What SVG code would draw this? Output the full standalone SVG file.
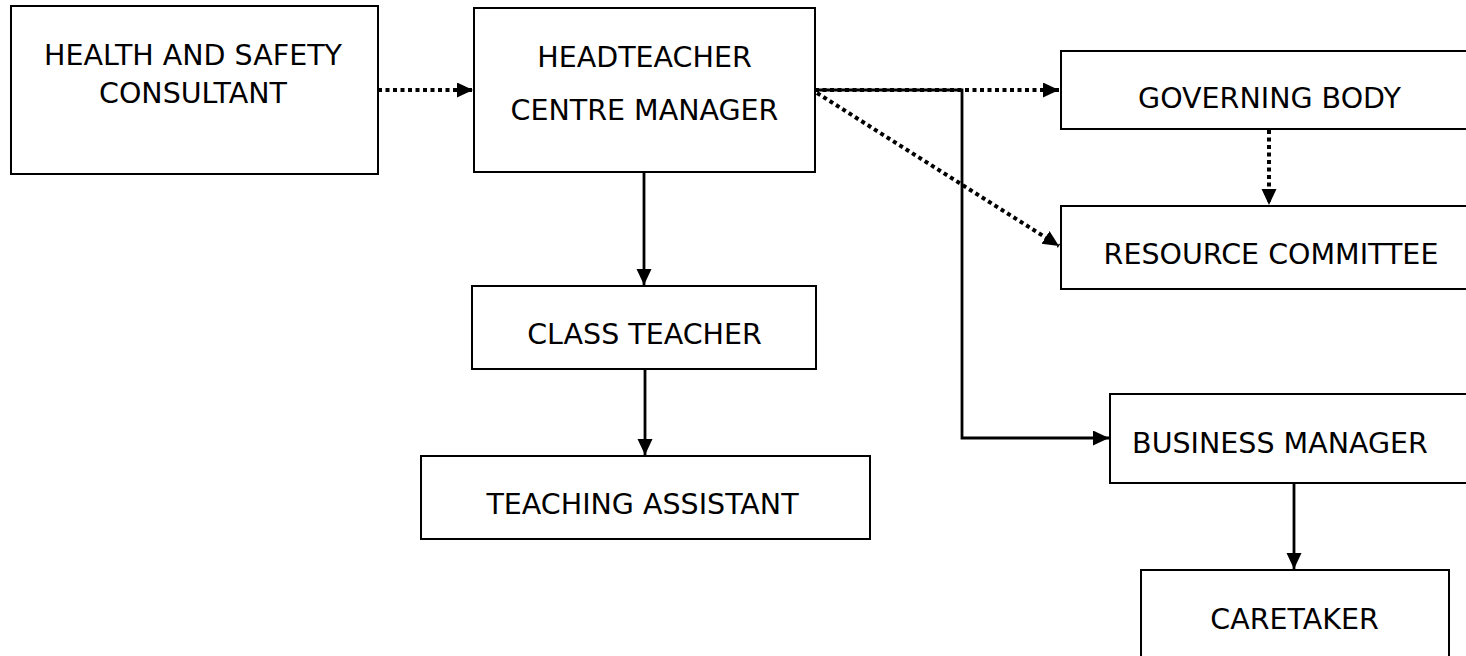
<svg xmlns="http://www.w3.org/2000/svg" width="1466" height="656" viewBox="0 0 1466 656">
<defs>
<style>
.box{fill:#fff;stroke:#000;stroke-width:2}
.lbl{font-family:"DejaVu Sans",Verdana,sans-serif;font-size:28.5px;fill:#000;text-anchor:middle}
.solid{fill:none;stroke:#000;stroke-width:2.8}
.dot{fill:none;stroke:#000;stroke-width:4;stroke-dasharray:4 3.5}
</style>
<marker id="ah" markerUnits="userSpaceOnUse" markerWidth="17" markerHeight="16" viewBox="0 0 17 16" refX="16" refY="7.5" orient="auto">
<path d="M0,0 L16,7.5 L0,15 z" fill="#000"/>
</marker>
</defs>
<rect width="1466" height="656" fill="#fff"/>
<g id="connectors">
<line class="dot" x1="378" y1="90" x2="473" y2="90" marker-end="url(#ah)"/>
<line class="dot" x1="815" y1="90" x2="1059" y2="90" marker-end="url(#ah)"/>
<line class="dot" x1="817" y1="93" x2="1059" y2="246" marker-end="url(#ah)"/>
<line class="dot" x1="1269" y1="130" x2="1269" y2="205" marker-end="url(#ah)"/>
<path class="solid" d="M815,90 H962 V438 H1109" marker-end="url(#ah)"/>
<line class="solid" x1="644" y1="172" x2="644" y2="285" marker-end="url(#ah)"/>
<line class="solid" x1="645" y1="369" x2="645" y2="455" marker-end="url(#ah)"/>
<line class="solid" x1="1294" y1="483" x2="1294" y2="569" marker-end="url(#ah)"/>
</g>
<g id="hs">
<rect class="box" x="11" y="6" width="367" height="168"/>
<text class="lbl" x="193" y="65">HEALTH AND SAFETY</text>
<text class="lbl" x="193" y="103">CONSULTANT</text>
</g>
<g id="headteacher">
<rect class="box" x="474" y="8" width="341" height="164"/>
<text class="lbl" x="644.5" y="67">HEADTEACHER</text>
<text class="lbl" x="644.5" y="120">CENTRE MANAGER</text>
</g>
<g id="governing">
<rect class="box" x="1061" y="51" width="420" height="78"/>
<text class="lbl" x="1269.5" y="108">GOVERNING BODY</text>
</g>
<g id="resource">
<rect class="box" x="1061" y="206" width="420" height="83"/>
<text class="lbl" x="1271" y="264">RESOURCE COMMITTEE</text>
</g>
<g id="classteacher">
<rect class="box" x="472" y="286" width="344" height="83"/>
<text class="lbl" x="644.5" y="344">CLASS TEACHER</text>
</g>
<g id="teachingassistant">
<rect class="box" x="421" y="456" width="449" height="83"/>
<text class="lbl" x="642.5" y="514">TEACHING ASSISTANT</text>
</g>
<g id="business">
<rect class="box" x="1110" y="394" width="370" height="89"/>
<text class="lbl" x="1280" y="453">BUSINESS MANAGER</text>
</g>
<g id="caretaker">
<rect class="box" x="1141" y="570" width="308" height="100"/>
<text class="lbl" x="1294.5" y="629">CARETAKER</text>
</g>
</svg>
